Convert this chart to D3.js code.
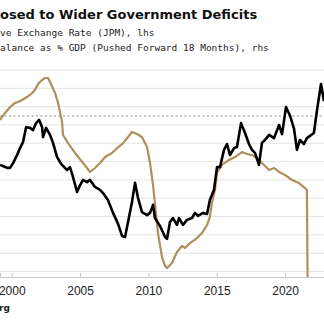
<!DOCTYPE html>
<html>
<head>
<meta charset="utf-8">
<script src="https://cdn.jsdelivr.net/npm/d3@7"></script>
<style>
  body { margin: 0; background: #fff; }
  svg { display: block; }
</style>
</head>
<body>
<svg id="chart" width="324" height="327"></svg>
<script>
const reerYears = [1999.14, 1999.36, 1999.66, 1999.88, 2000.10, 2000.39, 2000.61, 2000.83, 2001.05, 2001.34,
    2001.56, 2001.78, 2002.00, 2002.22, 2002.29, 2002.51, 2002.80, 2003.02, 2003.31, 2003.53,
    2003.68, 2004.05, 2004.26, 2004.48, 2004.78, 2005.00, 2005.22, 2005.51, 2005.73, 2006.09,
    2006.46, 2006.68, 2007.04, 2007.41, 2007.78, 2008.07, 2008.29, 2008.51, 2008.80, 2009.02,
    2009.24, 2009.53, 2009.90, 2010.12, 2010.34, 2010.48, 2010.85, 2011.22, 2011.36, 2011.58,
    2011.80, 2012.09, 2012.24, 2012.53, 2012.82, 2013.19, 2013.41, 2013.63, 2014.00, 2014.29,
    2014.50, 2014.80, 2015.02, 2015.24, 2015.53, 2015.75, 2015.97, 2016.27, 2016.48, 2016.78,
    2017.07, 2017.36, 2017.58, 2017.80, 2018.09, 2018.31, 2018.53, 2018.83, 2019.19, 2019.56,
    2019.78, 2020.07, 2020.37, 2020.66, 2020.87, 2021.09, 2021.38, 2021.60, 2022.11, 2022.33,
    2022.63, 2022.85];
const reerValues = [109.1, 108.8, 108.3, 108.3, 109.6, 111.8, 113.7, 115.4, 119.4, 119.2,
    118.6, 120.5, 121.4, 119.4, 116.7, 119.2, 117.3, 115.1, 111.3, 109.9,
    109.1, 107.7, 108.5, 105.8, 101.7, 103.6, 105.0, 104.4, 105.0, 103.1,
    102.3, 101.4, 99.5, 96.0, 93.0, 89.7, 89.4, 93.5, 99.0, 104.2,
    100.1, 96.2, 95.4, 96.0, 98.2, 94.6, 92.4, 89.4, 88.9, 93.5,
    94.6, 92.7, 94.6, 92.7, 94.1, 94.6, 96.0, 95.2, 96.0, 95.7,
    99.5, 102.3, 108.5, 108.5, 113.2, 114.8, 111.8, 113.7, 114.0, 120.5,
    117.8, 114.8, 113.2, 112.4, 109.1, 115.1, 115.9, 117.3, 116.4, 120.0,
    117.5, 124.9, 122.5, 118.9, 113.2, 115.9, 114.8, 116.4, 117.8, 123.8,
    131.2, 126.5];

// Fiscal balance as % of GDP, pushed forward 18 months (rhs)
const fiscalYears = [1999.14, 1999.51, 1999.88, 2000.24, 2000.46, 2000.75, 2001.12, 2001.49, 2001.70, 2001.92,
    2002.22, 2002.44, 2002.66, 2002.80, 2003.17, 2003.39, 2003.68, 2003.75, 2004.12, 2004.63,
    2005.22, 2005.73, 2006.09, 2006.46, 2006.83, 2007.34, 2007.71, 2008.15, 2008.51, 2008.80,
    2009.17, 2009.53, 2009.90, 2010.12, 2010.34, 2010.70, 2011.00, 2011.22, 2011.36, 2011.73,
    2012.09, 2012.46, 2012.68, 2013.04, 2013.56, 2013.92, 2014.29, 2014.50, 2014.65, 2014.87,
    2015.02, 2015.38, 2015.90, 2016.34, 2016.85, 2017.22, 2017.58, 2017.94, 2018.31, 2018.83,
    2019.19, 2019.56, 2020.00, 2020.51, 2021.02, 2021.46, 2021.60, 2021.68];
const fiscalValues = [-0.26, 0.20, 0.59, 0.86, 0.92, 1.05, 1.25, 1.51, 1.71, 2.11,
    2.37, 2.50, 2.50, 2.24, 1.51, 0.86, -0.39, -1.25, -1.78, -2.43,
    -3.09, -3.68, -3.42, -3.09, -2.70, -2.43, -2.11, -1.78, -1.38, -1.05,
    -1.18, -1.38, -2.04, -3.09, -4.54, -7.70, -9.28, -9.87, -10.0, -9.67,
    -8.95, -8.55, -8.68, -8.36, -8.03, -7.70, -7.17, -6.64, -5.72, -4.87,
    -3.75, -3.22, -2.89, -2.70, -2.37, -2.50, -2.57, -2.76, -3.09, -3.55,
    -3.42, -3.68, -3.88, -4.21, -4.41, -4.74, -4.87, -15.0];

const xTicks = [2000, 2005, 2010, 2015, 2020];
const gridTicks = [80, 85, 90, 95, 100, 105, 110, 115, 120, 125, 130, 135];

const titleText = "osed to Wider Government Deficits";
const legendTexts = ["ve Exchange Rate (JPM), lhs",
    "alance as % GDP (Pushed Forward 18 Months), rhs"];
const sourceText = "rg";

let svg = d3.select("#chart");

let plotTop = 51.7, plotBottom = 277, plotLeft = 0, plotRight = 324;

// Create the x and y scales
let xScale = d3.scaleLinear().domain([1999.14, 2022.85]).range([plotLeft, plotRight]);
let yLeft = d3.scaleLinear().domain([78.5, 140]).range([plotBottom, plotTop]);
let yRight = d3.scaleLinear().domain([-10.59, 4.23]).range([plotBottom, plotTop]);

svg.append("defs").append("clipPath").attr("id", "plotClip")
    .append("rect")
    .attr("x", plotLeft).attr("y", plotTop)
    .attr("width", plotRight - plotLeft).attr("height", plotBottom - plotTop);

// gridlines from the lhs axis
svg.append("g").selectAll("line").data(gridTicks).enter()
    .append("line")
    .attr("x1", plotLeft).attr("x2", plotRight)
    .attr("y1", d => yLeft(d)).attr("y2", d => yLeft(d))
    .attr("stroke", "#e4e4e4")
    .attr("stroke-width", 1);

// dashed zero line of the rhs axis
svg.append("line")
    .attr("x1", plotLeft).attr("x2", plotRight)
    .attr("y1", yRight(0)).attr("y2", yRight(0))
    .attr("stroke", "#8c8c8c")
    .attr("stroke-width", 1)
    .attr("stroke-dasharray", "2,2.5");

// x axis
let xAxis = d3.axisBottom(xScale)
    .tickValues(xTicks)
    .tickFormat(d3.format("d"))
    .tickSize(-4)
    .tickPadding(9);

let gXAxis = svg.append("g")
    .attr("transform", "translate(0," + plotBottom + ")")
    .call(xAxis);

gXAxis.select(".domain").attr("stroke", "#c8c8c8");
gXAxis.selectAll(".tick line").attr("stroke", "#c8c8c8");
gXAxis.selectAll("text")
    .attr("fill", "#222")
    .style("font-family", "'Liberation Sans', Arial, sans-serif")
    .style("font-size", "12px");

// lines
let fiscalLine = d3.line()
    .x((d, i) => xScale(fiscalYears[i]))
    .y(d => yRight(d));

let reerLine = d3.line()
    .x((d, i) => xScale(reerYears[i]))
    .y(d => yLeft(d));

let gLines = svg.append("g").attr("clip-path", "url(#plotClip)");

gLines.append("path")
    .datum(fiscalValues)
    .attr("d", fiscalLine)
    .attr("fill", "none")
    .attr("stroke", "#b08f5e")
    .attr("stroke-width", 2.2)
    .attr("stroke-linejoin", "round");

gLines.append("path")
    .datum(reerValues)
    .attr("d", reerLine)
    .attr("fill", "none")
    .attr("stroke", "#000")
    .attr("stroke-width", 2.6)
    .attr("stroke-linejoin", "round");

// title, legend texts and source
svg.append("text")
    .attr("x", 0).attr("y", 18.5)
    .attr("fill", "#111")
    .style("font-family", "'DejaVu Sans', sans-serif")
    .style("font-weight", "bold")
    .style("font-size", "13px")
    .text(titleText);

svg.selectAll(".legend").data(legendTexts).enter()
    .append("text")
    .attr("class", "legend")
    .attr("x", 0)
    .attr("y", (d, i) => 36 + i * 14.5)
    .attr("fill", "#222")
    .style("font-family", "'DejaVu Sans Mono', monospace")
    .style("font-size", "9.5px")
    .text(d => d);

svg.append("text")
    .attr("x", -1).attr("y", 311)
    .attr("fill", "#222")
    .style("font-family", "'DejaVu Sans', sans-serif")
    .style("font-weight", "bold")
    .style("font-size", "9px")
    .text(sourceText);
</script>
</body>
</html>
